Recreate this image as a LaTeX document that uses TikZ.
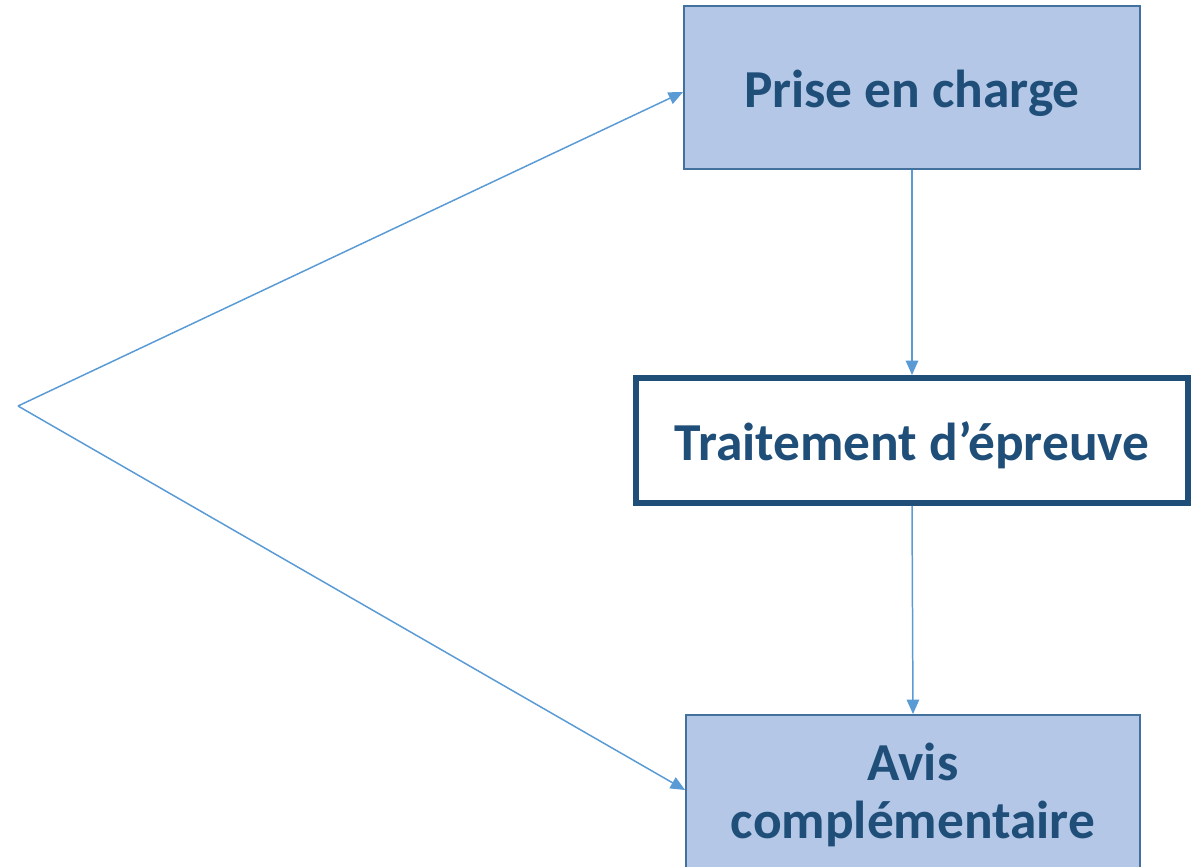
\documentclass[tikz,border=0pt]{standalone}
\usepackage{fontspec}
\setmainfont{Carlito}
\usetikzlibrary{arrows.meta,calc}

\definecolor{boxfill}{HTML}{B4C7E7}
\definecolor{boxline}{HTML}{41719C}
\definecolor{darkblue}{HTML}{1F4E79}
\definecolor{arrowblue}{HTML}{5B9BD5}

\tikzset{
    stage/.style={rectangle, fill=boxfill, draw=boxline, line width=1.1pt,
        text=darkblue, font=\fontsize{30.4}{33.4}\selectfont\bfseries, align=center},
    keystage/.style={stage, fill=white, draw=darkblue, line width=3.4pt},
    flow/.style={draw=arrowblue, line width=0.85pt, -{Triangle[length=0.29cm,width=0.25cm]}},
}

\begin{document}
\begin{tikzpicture}[x=0.02cm,y=-0.02cm]
    %%Background
    \clip (0,0) rectangle (1197,866);

    %% Boxes
    \node[stage, minimum width=9.12cm, minimum height=3.26cm,
        text height=0.92cm, text depth=0.14cm] (prise) at (912,87.5) {Prise en charge};
    \node[keystage, minimum width=11.04cm, minimum height=2.5cm,
        text height=0.92cm, text depth=0.14cm] (traitement) at (912,440.5) {Traitement d’épreuve};
    \node[stage, minimum width=9.08cm, minimum height=3.2cm] (avis) at (913,795) {Avis\\complémentaire};

    %% Apex
    \coordinate (apex) at (18,406);

    %% Arrows
    \draw[flow] (prise.south) to (traitement.north);
    \draw[flow] (traitement.south) to (avis.north);
    \draw[flow] (apex) to ([yshift=-0.09cm]prise.west);
    \draw[flow] (apex) to ([yshift=0.1cm]avis.west);
\end{tikzpicture}
\end{document}
